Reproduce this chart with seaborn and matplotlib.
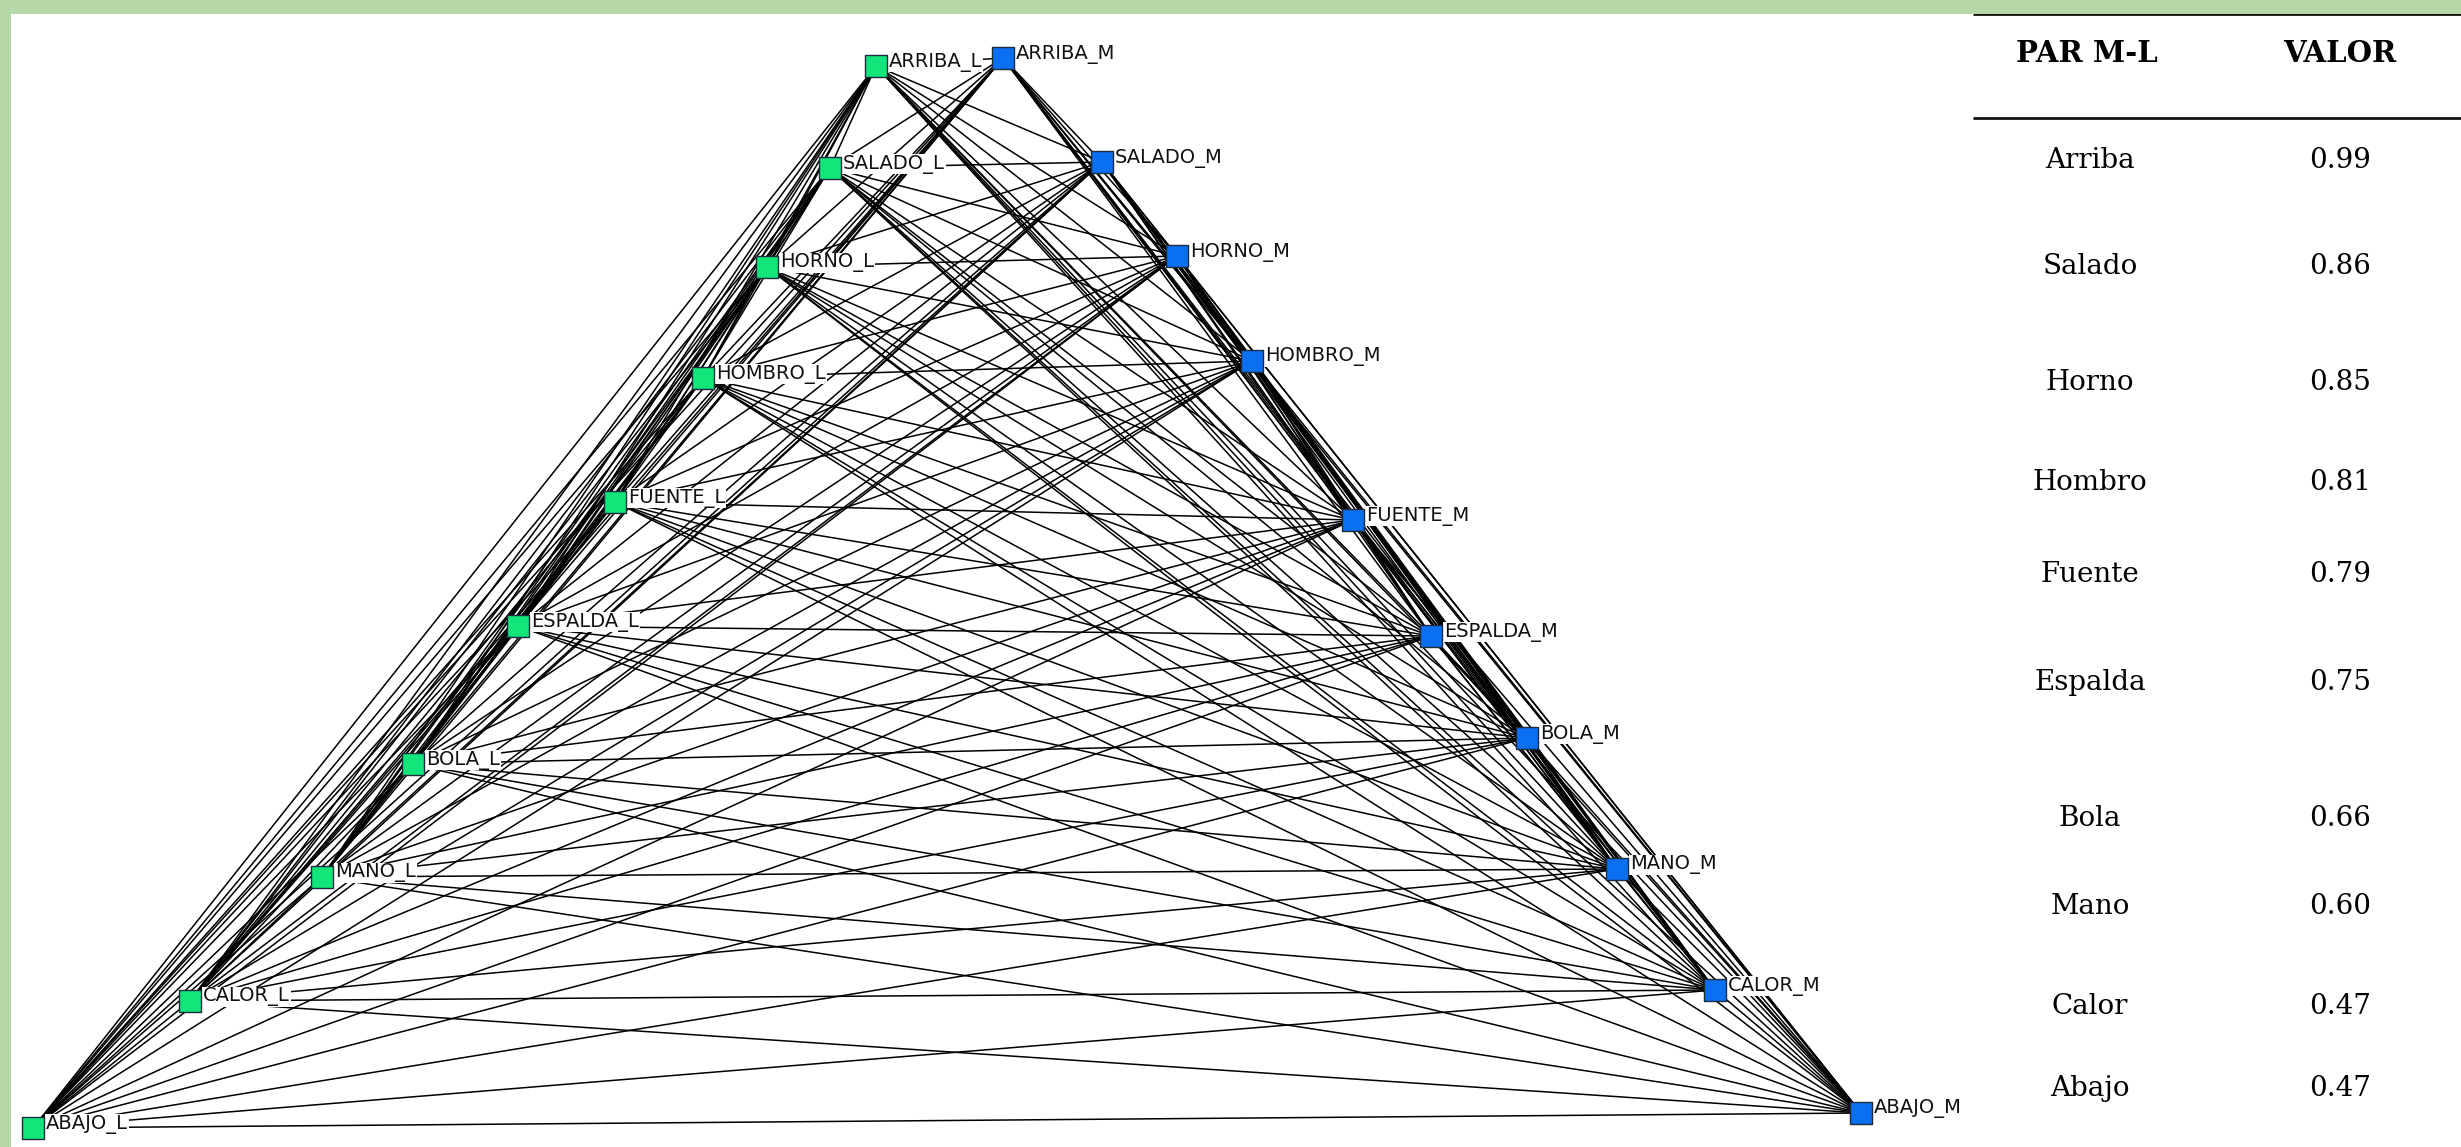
import itertools
import numpy as np
import pandas as pd
import seaborn as sns
import matplotlib.pyplot as plt
from matplotlib.collections import LineCollection
sns.set_style('white')

# pairs M-L and their value
words = ['Arriba', 'Salado', 'Horno', 'Hombro', 'Fuente',
         'Espalda', 'Bola', 'Mano', 'Calor', 'Abajo']
values = [0.99, 0.86, 0.85, 0.81, 0.79, 0.75, 0.66, 0.60, 0.47, 0.47]

# network layout (same units as the picture, y going down)
l_x = [876, 830, 767, 703, 615, 518, 413, 322, 190, 33]
l_y = [66, 168, 267, 378, 502, 626, 764, 877, 1001, 1128]
m_x = [1003, 1102, 1177, 1252, 1353, 1431, 1527, 1617, 1715, 1861]
m_y = [58, 162, 256, 361, 520, 636, 738, 869, 990, 1113]

# table row layout
row_y = [160, 267, 383, 482, 574, 683, 818, 906, 1006, 1088]

nodes = pd.DataFrame({
    'name': [w.upper() + '_L' for w in words] + [w.upper() + '_M' for w in words],
    'x': l_x + m_x,
    'y': l_y + m_y,
    'side': ['L'] * len(words) + ['M'] * len(words),
})

W, H = 2461, 1147
fig = plt.figure(figsize=(W / 100, H / 100), dpi=100, facecolor='#b6d7a8')
ax = fig.add_axes([11 / W, 0, 1 - 11 / W, (H - 14) / H])
ax.set_facecolor('white')
ax.set_xlim(11, W)
ax.set_ylim(H, 14)
for s in ax.spines.values():
    s.set_visible(False)
ax.set_xticks([])
ax.set_yticks([])

# every node linked to every other
pts = nodes[['x', 'y']].to_numpy()
segs = [[pts[i], pts[j]] for i, j in itertools.combinations(range(len(pts)), 2)]
ax.add_collection(LineCollection(segs, colors='black', linewidths=1.1, zorder=1))

for _, r in nodes.iterrows():
    ax.text(r.x + 13, r.y - 4, r['name'], fontsize=14, family='DejaVu Sans',
            ha='left', va='center', color='#111111', zorder=2,
            bbox=dict(boxstyle='square,pad=0.05', fc='white', ec='none'))

sns.scatterplot(data=nodes, x='x', y='y', hue='side', marker='s', s=250,
                palette={'L': '#12e57a', 'M': '#0b6ff2'}, edgecolor='#1c2c3c',
                linewidth=1.0, legend=False, zorder=3, ax=ax)
ax.set_xlabel('')
ax.set_ylabel('')

# table
ax.hlines([14, 118], 1973, W, colors='#111111', linewidth=2)
ax.text(2087, 53, 'PAR M-L', fontsize=21, fontweight='bold', family='DejaVu Serif',
        ha='center', va='center', color='black')
ax.text(2340, 53, 'VALOR', fontsize=21, fontweight='bold', family='DejaVu Serif',
        ha='center', va='center', color='black')
for w, v, y in zip(words, values, row_y):
    ax.text(2090, y, w, fontsize=20, family='DejaVu Serif', ha='center', va='center',
            color='black')
    ax.text(2340, y, f'{v:.2f}', fontsize=20, family='DejaVu Serif', ha='center',
            va='center', color='black')

fig.savefig('out.png', dpi=100, facecolor=fig.get_facecolor())
